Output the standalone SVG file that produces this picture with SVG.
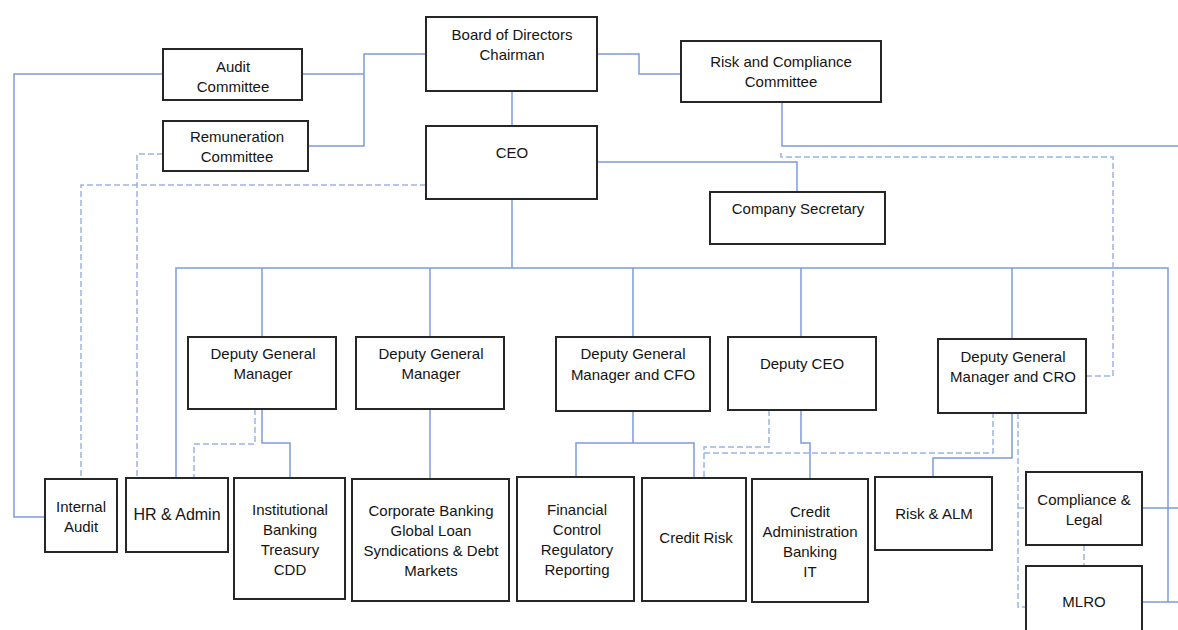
<svg xmlns="http://www.w3.org/2000/svg" width="1178" height="630" viewBox="0 0 1178 630">
<style>
.b{fill:#fff;stroke:#262626;stroke-width:2}
.t{font-family:"Liberation Sans",Arial,sans-serif;font-size:15px;fill:#141414;text-anchor:middle}
.s{fill:none;stroke:#7b9be0;stroke-width:1.5}
.d{fill:none;stroke:#9ab4e8;stroke-width:1.5;stroke-dasharray:6,3}
</style>
<rect width="1178" height="630" fill="#fff"/>
<g id="connectors">
<path class="s" d="M512 91V126"/>
<path class="s" d="M302 74H364M308 146H364V54H426"/>
<path class="s" d="M163 74H14V517H45"/>
<path class="s" d="M597 54H639V74H681"/>
<path class="s" d="M597 162H797V192"/>
<path class="s" d="M782 102V146H1178"/>
<path class="s" d="M512 199V268M176 478V268H1168V602M1142 602H1178M1142 508H1178"/>
<path class="s" d="M262 268V337M430 268V337M633 268V337M801 268V337M1012 268V339"/>
<path class="s" d="M262 409V443H290V478"/>
<path class="s" d="M430 409V479"/>
<path class="s" d="M633 411V443M576 477V443H694V478"/>
<path class="s" d="M801 410V443H810V479"/>
<path class="s" d="M1012 413V458H933V477"/>
<path class="d" d="M255 409V444H194V478"/>
<path class="d" d="M769 410V447H704V478M704 453H993V413"/>
<path class="d" d="M1018 413V607H1026M1018 508H1026"/>
<path class="d" d="M1084 545V566"/>
<path class="d" d="M1086 376H1113V157H781V150"/>
<path class="d" d="M426 185H81V479"/>
<path class="d" d="M163 154H137V478"/>
</g>
<g id="board"><rect class="b" x="426" y="17" width="171" height="74"/><text class="t" x="512" y="40">Board of Directors</text><text class="t" x="512" y="60">Chairman</text></g>
<g id="ceo"><rect class="b" x="426" y="126" width="171" height="73"/><text class="t" x="512" y="158">CEO</text></g>
<g id="audit-committee"><rect class="b" x="163" y="49" width="139" height="51"/><text class="t" x="233" y="72">Audit</text><text class="t" x="233" y="92">Committee</text></g>
<g id="remuneration-committee"><rect class="b" x="163" y="121" width="145" height="50"/><text class="t" x="237" y="142">Remuneration</text><text class="t" x="237" y="162">Committee</text></g>
<g id="risk-committee"><rect class="b" x="681" y="41" width="200" height="61"/><text class="t" x="781" y="67">Risk and Compliance</text><text class="t" x="781" y="87">Committee</text></g>
<g id="company-secretary"><rect class="b" x="710" y="192" width="175" height="52"/><text class="t" x="798" y="214">Company Secretary</text></g>
<g id="dgm1"><rect class="b" x="188" y="337" width="148" height="72"/><text class="t" x="263" y="359">Deputy General</text><text class="t" x="263" y="379">Manager</text></g>
<g id="dgm2"><rect class="b" x="356" y="337" width="148" height="72"/><text class="t" x="431" y="359">Deputy General</text><text class="t" x="431" y="379">Manager</text></g>
<g id="dgm-cfo"><rect class="b" x="556" y="337" width="154" height="74"/><text class="t" x="633" y="359">Deputy General</text><text class="t" x="633" y="380">Manager and CFO</text></g>
<g id="deputy-ceo"><rect class="b" x="728" y="337" width="148" height="73"/><text class="t" x="802" y="369">Deputy CEO</text></g>
<g id="dgm-cro"><rect class="b" x="938" y="339" width="148" height="74"/><text class="t" x="1013" y="362">Deputy General</text><text class="t" x="1013" y="382">Manager and CRO</text></g>
<g id="internal-audit"><rect class="b" x="45" y="479" width="72" height="73"/><text class="t" x="81" y="512">Internal</text><text class="t" x="81" y="532">Audit</text></g>
<g id="hr-admin"><rect class="b" x="126" y="478" width="102" height="74"/><text class="t" x="177" y="520" style="font-size:16px">HR &amp; Admin</text></g>
<g id="institutional"><rect class="b" x="234" y="478" width="111" height="121"/><text class="t" x="290" y="515">Institutional</text><text class="t" x="290" y="535">Banking</text><text class="t" x="290" y="555">Treasury</text><text class="t" x="290" y="575">CDD</text></g>
<g id="corporate"><rect class="b" x="352" y="479" width="157" height="122"/><text class="t" x="431" y="516">Corporate Banking</text><text class="t" x="431" y="536">Global Loan</text><text class="t" x="431" y="556">Syndications &amp; Debt</text><text class="t" x="431" y="576">Markets</text></g>
<g id="financial-control"><rect class="b" x="517" y="477" width="117" height="124"/><text class="t" x="577" y="515">Financial</text><text class="t" x="577" y="535">Control</text><text class="t" x="577" y="555">Regulatory</text><text class="t" x="577" y="575">Reporting</text></g>
<g id="credit-risk"><rect class="b" x="642" y="478" width="104" height="123"/><text class="t" x="696" y="543">Credit Risk</text></g>
<g id="credit-admin"><rect class="b" x="752" y="479" width="116" height="123"/><text class="t" x="810" y="517">Credit</text><text class="t" x="810" y="537">Administration</text><text class="t" x="810" y="557">Banking</text><text class="t" x="810" y="577">IT</text></g>
<g id="risk-alm"><rect class="b" x="875" y="477" width="117" height="73"/><text class="t" x="934" y="519">Risk &amp; ALM</text></g>
<g id="compliance-legal"><rect class="b" x="1026" y="472" width="116" height="73"/><text class="t" x="1084" y="505">Compliance &amp;</text><text class="t" x="1084" y="525">Legal</text></g>
<g id="mlro"><rect class="b" x="1026" y="566" width="116" height="80"/><text class="t" x="1084" y="607">MLRO</text></g>
</svg>
